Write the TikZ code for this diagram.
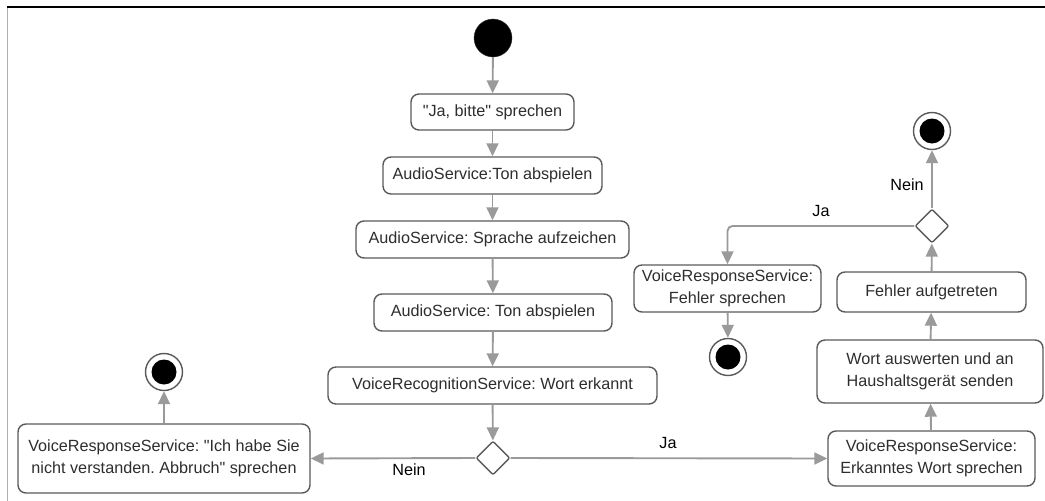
\documentclass[tikz,border=0pt]{standalone}
\usepackage{fontspec}
% TeXOff keeps the typed straight quotes as they are
\setmainfont{Liberation Sans}[Ligatures=TeXOff]
\usetikzlibrary{arrows.meta,shapes.geometric}
\definecolor{boxline}{HTML}{5A5A5A}
\definecolor{flow}{HTML}{9A9A9A}
\definecolor{txt}{HTML}{2E2E2E}
\begin{document}
\frenchspacing
\begin{tikzpicture}[x=1pt,y=-1pt,
  font=\fontsize{16.2}{21.5}\selectfont,
  action/.style={draw=boxline, line width=1.4pt, rounded corners=8pt, fill=white,
    text=txt, align=center, inner sep=0pt},
  decision/.style={diamond, draw=boxline, line width=1.4pt, rounded corners=2pt,
    fill=white, minimum width=34pt, minimum height=34pt, inner sep=0pt},
  startnode/.style={circle, fill=black, draw=black!80, minimum size=38pt, inner sep=0pt},
  endring/.style={circle, draw=boxline, line width=1.4pt, fill=white, minimum size=37pt, inner sep=0pt},
  enddot/.style={circle, fill=black, minimum size=25pt, inner sep=0pt},
  flowarrow/.style={draw=flow, line width=1.9pt, -{Triangle[length=13pt,width=12pt]}},
  guard/.style={text=black, inner sep=0pt}]
\useasboundingbox (0,0) rectangle (1045,501);

% frame
\draw[flow!80, line width=1pt] (7,7) -- (7,501);
\draw[black, line width=1.4pt] (7,7) -- (1045,7);

% main column
\node[startnode] (start) at (493,38) {};
\node[action, minimum width=163pt, minimum height=36pt] (ja) at (492.5,112) {"Ja, bitte" sprechen};
\node[action, minimum width=219pt, minimum height=37pt] (ton1) at (492.5,175.5) {AudioService:Ton abspielen};
\node[action, minimum width=273pt, minimum height=37pt] (rec) at (492.5,239.5) {AudioService: Sprache aufzeichen};
\node[action, minimum width=238pt, minimum height=37pt] (ton2) at (493,312.5) {AudioService: Ton abspielen};
\node[action, minimum width=329pt, minimum height=37pt] (vrs) at (492.5,385.5) {VoiceRecognitionService: Wort erkannt};
\node[decision] (d1) at (493,458) {};

% rejection branch
\node[action, minimum width=292pt, minimum height=69pt] (abort) at (164,458.5)
  {VoiceResponseService: "Ich habe Sie\\nicht verstanden. Abbruch" sprechen};
\node[endring] (endL) at (164,372) {};
\node[enddot] at (endL) {};

% recognised branch
\node[action, minimum width=207pt, minimum height=55pt] (say) at (931.5,458.5)
  {VoiceResponseService:\\Erkanntes Wort sprechen};
\node[action, minimum width=226pt, minimum height=63pt] (eval) at (930,371.5)
  {Wort auswerten und an\\Haushaltsgerät senden};
\node[action, minimum width=189pt, minimum height=40pt] (err) at (931.5,292) {Fehler aufgetreten};
\node[decision] (d2) at (932,226) {};
\node[endring] (endT) at (932,131) {};
\node[enddot] at (endT) {};
\node[action, minimum width=187pt, minimum height=47pt] (errsay) at (727.5,288.5)
  {VoiceResponseService:\\Fehler sprechen};
\node[endring] (endE) at (728,357) {};
\node[enddot] at (endE) {};

% guard labels
\node[guard] (nein1) at (409,470) {Nein};
\node[guard] (ja1) at (668,443) {Ja};
\node[guard] (nein2) at (907,185) {Nein};
\node[guard] (ja2) at (821,211) {Ja};

% flow
\draw[flowarrow] (start) -- (ja);
\draw[flowarrow] (ja) -- (ton1);
\draw[flowarrow] (ton1) -- (rec);
\draw[flowarrow] (rec) -- (ton2);
\draw[flowarrow] (ton2) -- (vrs);
\draw[flowarrow] (vrs) -- (d1);
\draw[flowarrow] (d1.west) -- (abort.east);
\draw[flowarrow] (abort) -- (endL);
\draw[flowarrow] (d1.east) -- (say.west);
\draw[flowarrow] (say) -- (eval);
\draw[flowarrow] (eval) -- (err);
\draw[flowarrow] (err) -- (d2);
\draw[flowarrow] (d2) -- (endT);
\draw[flowarrow, rounded corners=5pt] (d2.west) -| (errsay.north);
\draw[flowarrow] (errsay) -- (endE);
\end{tikzpicture}
\end{document}
